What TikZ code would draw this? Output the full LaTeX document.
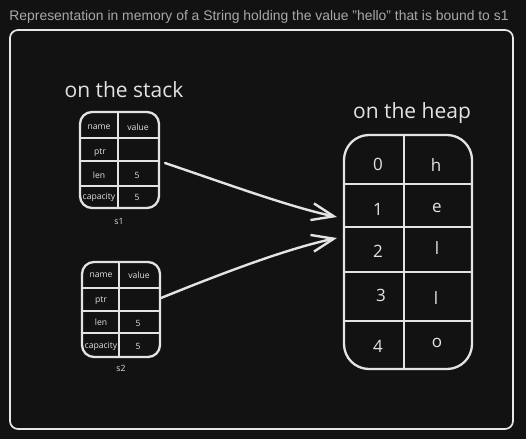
\documentclass[tikz,border=0pt]{standalone}
\usepackage{fontspec}
\setmainfont{Liberation Sans}
\newfontfamily\handfont{Open Sans}
\usetikzlibrary{arrows.meta}
\definecolor{bg}{HTML}{121212}
\definecolor{ink}{HTML}{E3E3E3}
\definecolor{titlegray}{HTML}{A8A8A8}
\tikzset{
  tbl/.style={draw=ink, line width=2.3pt},
  cellline/.style={draw=ink, line width=2.3pt},
  small/.style={text=ink, font=\handfont\fontsize{8.6}{9}\selectfont, inner sep=0pt},
  big/.style={text=ink, font=\handfont\fontsize{17}{19}\selectfont, inner sep=0pt},
  heading/.style={text=ink, font=\handfont\fontsize{21}{23}\selectfont, inner sep=0pt},
  ptrarrow/.style={draw=ink, line width=2.4pt, line cap=round, -{Straight Barb[length=22pt,width=17pt,line width=2.4pt]}},
}
\begin{document}
\begin{tikzpicture}[x=1pt,y=-1pt]
\fill[bg] (0,0) rectangle (526,439);
\useasboundingbox (0,0) rectangle (526,439);
% title and frame
\node[text=titlegray, font=\fontsize{13.9}{15}\selectfont, inner sep=0pt] (title) at (259,17) {Representation in memory of a String holding the value "hello" that is bound to s1};
\draw[draw=ink!85, line width=1.7pt, rounded corners=8pt] (10,30) rectangle (513,429);
% headings
\node[heading] (stackhd) at (124,90) {on the stack};
\node[heading] (heaphd) at (412,113) {on the heap};
% s1 table
\draw[tbl, rounded corners=12pt] (80,112) rectangle (159,208);
\draw[cellline] (118,112) -- (118,208);
\draw[cellline] (80,138) -- (159,138);
\draw[cellline] (80,161) -- (159,161);
\draw[cellline] (80,186) -- (159,186);
\node[small] (a1) at (99,127) {name};
\node[small] (a2) at (138,127) {value};
\node[small] (a3) at (100,153) {ptr};
\node[small] (a4) at (99,175) {len};
\node[small] (a5) at (137,175) {5};
\node[small] (a6) at (99,197) {capacity};
\node[small] (a7) at (137,197) {5};
\node[small] (s1) at (119,221) {s1};
\coordinate (s1ptr) at (165,163);
% s2 table
\draw[tbl, rounded corners=12pt] (82,262) rectangle (160,357);
\draw[cellline] (119,262) -- (119,357);
\draw[cellline] (82,288) -- (160,288);
\draw[cellline] (82,311) -- (160,311);
\draw[cellline] (82,333) -- (160,333);
\node[small] (b1) at (101,275) {name};
\node[small] (b2) at (139,275) {value};
\node[small] (b3) at (101,301) {ptr};
\node[small] (b4) at (101,322) {len};
\node[small] (b5) at (138,323) {5};
\node[small] (b6) at (101,346) {capacity};
\node[small] (b7) at (138,346) {5};
\node[small] (s2) at (121,368) {s2};
\coordinate (s2ptr) at (161,298);
% heap table
\draw[tbl, rounded corners=25pt] (344,135) rectangle (472,369);
\draw[cellline] (404,135) -- (404,369);
\draw[cellline] (344,184) -- (472,184);
\draw[cellline] (344,227) -- (472,227);
\draw[cellline] (344,272) -- (472,272);
\draw[cellline] (344,321) -- (472,321);
\node[big] (h0) at (378,164) {0};
\node[big] (v0) at (436,165) {h};
\node[big] (h1) at (378,209) {1};
\node[big] (v1) at (437,208) {e};
\node[big] (h2) at (378,251) {2};
\node[big] (v2) at (437,248) {l};
\node[big] (h3) at (381,295) {3};
\node[big] (v3) at (436,298) {l};
\node[big] (h4) at (378,346) {4};
\node[big] (v4) at (437,343) {o};
\coordinate (heapin1) at (337,217);
\coordinate (heapin2) at (337,238);
% arrows
\draw[ptrarrow] (s1ptr) .. controls (230,185) and (290,207) .. (heapin1);
\draw[ptrarrow] (s2ptr) .. controls (230,270) and (290,248) .. (heapin2);
\end{tikzpicture}
\end{document}
